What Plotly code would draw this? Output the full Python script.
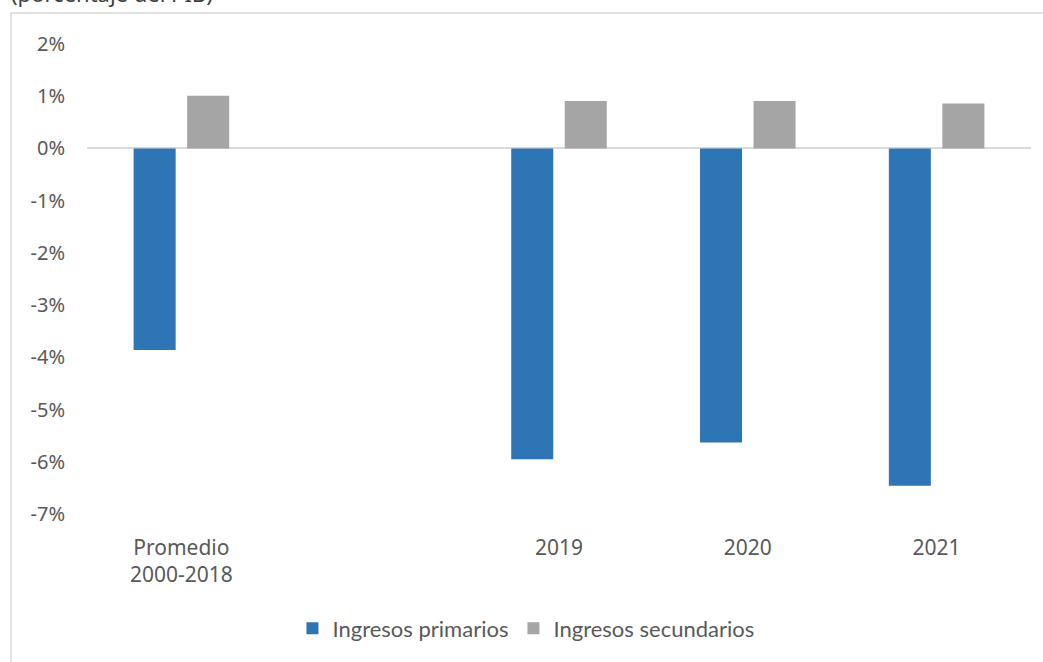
import plotly.graph_objects as go

categories = ["Promedio<br>2000-2018", " ", "2019", "2020", "2021"]
primarios = [-3.86, None, -5.95, -5.63, -6.46]
secundarios = [1.01, None, 0.91, 0.91, 0.86]
tick_vals = [2, 1, 0, -1, -2, -3, -4, -5, -6, -7]
tick_text = [f"{v}%" for v in tick_vals]

fig = go.Figure()
fig.add_trace(go.Bar(x=categories, y=primarios, name="Ingresos primarios",
                     marker=dict(color="#2E75B6", line=dict(width=0))))
fig.add_trace(go.Bar(x=categories, y=secundarios, name="Ingresos secundarios",
                     marker=dict(color="#A5A5A5", line=dict(width=0))))

fig.update_layout(
    width=1043, height=662,
    margin=dict(l=87, r=12, t=44, b=144),
    paper_bgcolor="white", plot_bgcolor="white",
    barmode="group", bargap=0.433, bargroupgap=0.215,
    font=dict(family="Noto Sans, Open Sans, sans-serif", size=19, color="#595959"),
    showlegend=True,
    legend=dict(orientation="h", x=0.465, xanchor="center", y=-0.2436, yanchor="middle",
                font=dict(family="Lato, Carlito, sans-serif", size=22, color="#595959"),
                itemwidth=30, tracegroupgap=0),
    xaxis=dict(showline=False, showgrid=False, ticks="", tickfont=dict(size=21),
               ticklabelstandoff=19, fixedrange=True),
    yaxis=dict(range=[-7, 2], tickvals=tick_vals, ticktext=tick_text,
               showgrid=False, zeroline=True, zerolinecolor="#D9D9D9", zerolinewidth=2,
               showline=False, ticks="", ticklabelstandoff=21, tickfont=dict(size=20)),
    shapes=[dict(type="rect", xref="paper", yref="paper",
                 x0=-0.0805, x1=1.2, y0=-0.5, y1=1.0657,
                 line=dict(color="#D9D9D9", width=1.5), fillcolor="rgba(0,0,0,0)",
                 layer="below")],
    annotations=[dict(text="(porcentaje del PIB)", xref="paper", yref="paper",
                      x=-0.083, y=1.072, xanchor="left", yanchor="bottom",
                      showarrow=False,
                      font=dict(family="Noto Sans, sans-serif", size=22, color="#404040"))],
)

fig.write_html("out.html")
